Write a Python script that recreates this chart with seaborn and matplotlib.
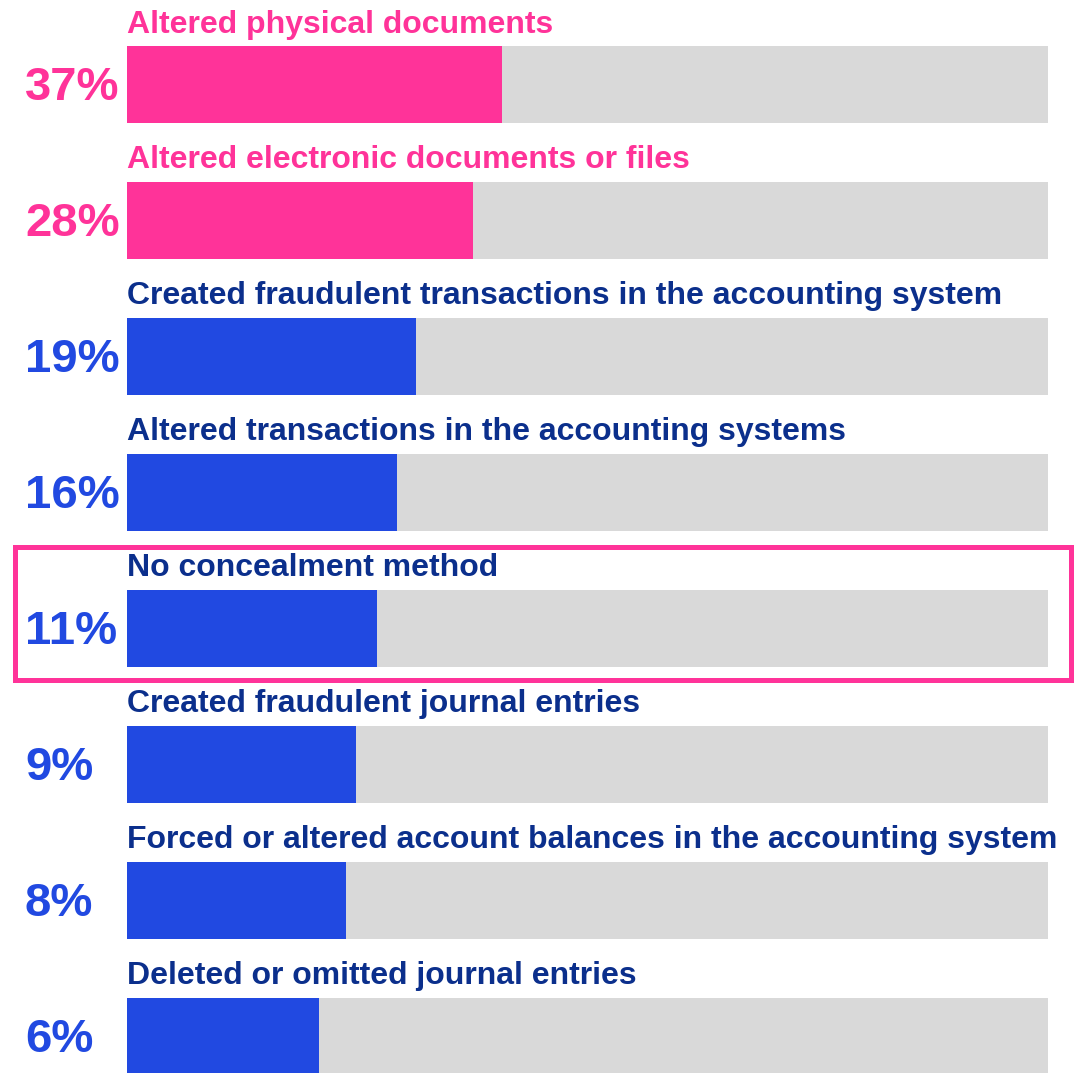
import matplotlib
matplotlib.use("Agg")
import matplotlib.pyplot as plt
import matplotlib.transforms as mtransforms
from matplotlib.patches import Rectangle
import seaborn as sns

# --- data ---
categories = [
    "Altered physical documents",
    "Altered electronic documents or files",
    "Created fraudulent transactions in the accounting system",
    "Altered transactions in the accounting systems",
    "No concealment method",
    "Created fraudulent journal entries",
    "Forced or altered account balances in the accounting system",
    "Deleted or omitted journal entries",
]
pct_labels = ["37%", "28%", "19%", "16%", "11%", "9%", "8%", "6%"]
# filled length of each bar, as % of the grey track (as drawn in the picture)
bar_lengths = [40.7, 37.6, 31.4, 29.3, 27.1, 24.9, 23.8, 20.8]
track_full = [100] * len(categories)
highlight = [True, True, False, False, False, False, False, False]

PINK = "#FF3399"
BLUE = "#2149E1"
NAVY = "#0B2F8C"
GREY = "#D9D9D9"

sns.set_style("white")
plt.rcParams["font.family"] = ["Liberation Sans", "DejaVu Sans"]

W, H = 1084, 1073
fig = plt.figure(figsize=(W / 100, H / 100), dpi=100)
ax = fig.add_axes([127 / W, 0, 921 / W, 1])

row_px = 136.0
bar_h = 77 / row_px
colors = [PINK if h else BLUE for h in highlight]

sns.barplot(x=track_full, y=categories, orient="h", color=GREY,
            width=bar_h, ax=ax, saturation=1, linewidth=0)
sns.barplot(x=bar_lengths, y=categories, hue=categories, palette=colors,
            orient="h", width=bar_h, ax=ax, saturation=1, legend=False,
            linewidth=0)

top0 = 84.5
ax.set_ylim((H - top0) / row_px, -top0 / row_px)
ax.set_xlim(0, 100)
ax.axis("off")

# text labels
trans_pct = mtransforms.blended_transform_factory(fig.transFigure, ax.transData)
for i, (cat, pct, hl) in enumerate(zip(categories, pct_labels, highlight)):
    ax.text(0, i - (38.5 + 13.5) / row_px, cat, ha="left", va="baseline",
            fontsize=23, fontweight="bold", color=PINK if hl else NAVY)
    ax.text(25 / W, i - 1 / row_px, pct, transform=trans_pct, ha="left",
            va="center_baseline", fontsize=34, fontweight="bold",
            color=PINK if hl else BLUE)

# highlight box around "No concealment method"
fig.patches.append(Rectangle((14.5 / W, 1 - 679.5 / H), (1070.5 - 14.5) / W,
                             (679.5 - 546.5) / H, transform=fig.transFigure,
                             fill=False, edgecolor=PINK, linewidth=3.6))

fig.savefig("out.png", dpi=100, facecolor="white")
